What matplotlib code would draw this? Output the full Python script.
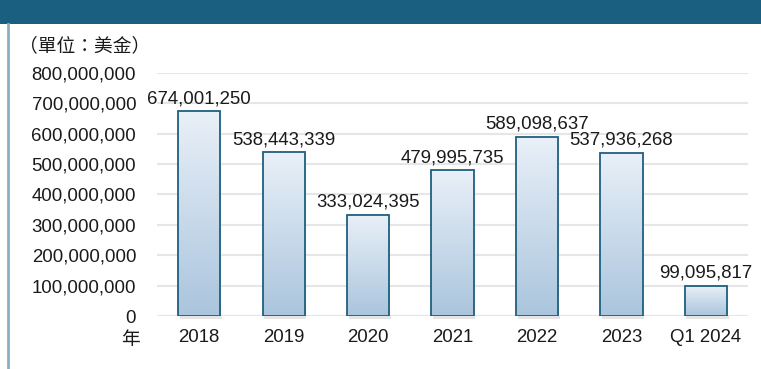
import matplotlib.pyplot as plt
import numpy as np
from matplotlib.patches import Rectangle
from matplotlib.lines import Line2D
from matplotlib.ticker import FuncFormatter

plt.rcParams['font.family'] = ['Liberation Sans', 'Noto Sans CJK TC', 'DejaVu Sans']

# 各年度金額（美金）
years = ['2018', '2019', '2020', '2021', '2022', '2023', 'Q1 2024']
amounts = [674001250, 538443339, 333024395, 479995735, 589098637, 537936268, 99095817]

fig = plt.figure(figsize=(7.61, 3.69), dpi=100)
ax = fig.add_axes([0.2063, 0.1436, 0.7767, 0.6586])

# 上方深色標題列與左側邊線
fig.patches.append(Rectangle((0, 1 - 24 / 369), 1, 24 / 369, transform=fig.transFigure,
                             facecolor='#1a5f7f', edgecolor='none', zorder=0))
fig.lines.append(Line2D([7.5 / 761, 7.5 / 761], [0, 1 - 24 / 369], transform=fig.transFigure,
                        color='#8aaec4', linewidth=2))

x = np.arange(len(years))
bars = ax.bar(x, amounts, width=0.5, facecolor='none', edgecolor='#1f5f80', linewidth=1.3, zorder=3)

# 漸層填色：上淺下深
grad = np.linspace(0, 1, 256).reshape(-1, 1)
cmap = plt.matplotlib.colors.LinearSegmentedColormap.from_list('bar', ['#aac5dd', '#e9f0f8'])
for b in bars:
    bx, by = b.get_x(), b.get_y()
    w, h = b.get_width(), b.get_height()
    im = ax.imshow(grad, extent=[bx, bx + w, by, by + h], origin='lower', cmap=cmap,
                   aspect='auto', zorder=2)
    im.set_clip_path(b)
    # 底部陰影
    ax.add_patch(Rectangle((bx + 0.02, -9e6), w, 9e6, facecolor='#000000', alpha=0.1,
                           edgecolor='none', zorder=1, clip_on=False))

for xi, v in zip(x, amounts):
    ax.annotate(f'{v:,}', (xi, v), xytext=(0, 3), textcoords='offset points',
                ha='center', va='bottom', fontsize=13.4, color='#1a1a1a', zorder=4)

ax.set_xlim(-0.5, len(years) - 0.5)
ax.set_ylim(0, 800000000)
ax.set_yticks(np.arange(0, 800000001, 100000000))
ax.yaxis.set_major_formatter(FuncFormatter(lambda v, p: f'{int(v):,}'))
ax.set_xticks(x)
ax.set_xticklabels(years)
ax.tick_params(axis='both', length=0, labelsize=13.4, labelcolor='#1a1a1a')
ax.tick_params(axis='y', pad=15)
ax.tick_params(axis='x', pad=9)
ax.grid(axis='y', color='#e6e6e6', linewidth=1.5, zorder=0)
ax.set_axisbelow(True)
for s in ax.spines.values():
    s.set_visible(False)

fig.text(19 / 761, 1 - 46 / 369, '（單位：美金）', fontsize=13.5, va='center', ha='left',
         family=['Noto Sans CJK TC'], color='#1a1a1a')
fig.text(140 / 761, 1 - 340 / 369, '年', fontsize=13.5, va='center', ha='right',
         family=['Noto Sans CJK TC'], color='#1a1a1a')

fig.savefig('out.png', dpi=100)
